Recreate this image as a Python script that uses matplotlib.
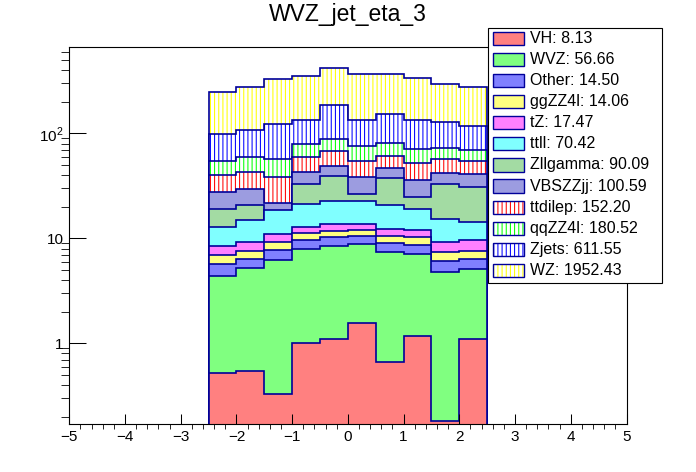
import numpy as np
import matplotlib
matplotlib.use("Agg")
import matplotlib.pyplot as plt
from matplotlib.patches import Rectangle
from matplotlib.ticker import FixedLocator, FixedFormatter, MultipleLocator, NullFormatter

plt.rcParams['font.family'] = ['Liberation Sans', 'DejaVu Sans']
plt.rcParams['mathtext.fontset'] = 'custom'
plt.rcParams['mathtext.rm'] = 'Liberation Sans'
plt.rcParams['hatch.linewidth'] = 0.75

title = "WVZ_jet_eta_3"
bin_edges = [-2.5, -2.0, -1.5, -1.0, -0.5, 0.0, 0.5, 1.0, 1.5, 2.0, 2.5]

# stack order, bottom to top (same order as the legend)
names = ["VH", "WVZ", "Other", "ggZZ4l", "tZ", "ttll", "Zllgamma",
         "VBSZZjj", "ttdilep", "qqZZ4l", "Zjets", "WZ"]
totals = [8.13, 56.66, 14.50, 14.06, 17.47, 70.42, 90.09,
          100.59, 152.20, 180.52, 611.55, 1952.43]

VH = [0.52, 0.54, 0.33, 1.00, 1.09, 1.55, 0.67, 1.17, 0.18, 1.09]
WVZ = [3.89, 4.64, 5.85, 6.86, 7.30, 7.22, 6.68, 5.87, 4.57, 3.98]
Other = [1.25, 1.17, 1.56, 1.72, 1.83, 1.68, 1.61, 1.54, 1.29, 1.24]
ggZZ4l = [1.23, 1.22, 1.48, 1.59, 1.44, 1.47, 1.49, 1.64, 1.32, 1.21]
tZ = [1.56, 1.65, 1.77, 1.57, 1.93, 1.67, 1.73, 1.70, 1.81, 2.05]
ttll = [4.28, 5.62, 7.49, 8.62, 8.92, 8.92, 8.44, 6.97, 6.01, 4.64]
Zllgamma = [6.16, 5.78, -9.3, 11.3, 16.4, 3.73, 16.65, 5.69, 17.52, 16.39]
VBSZZjj = [8.53, 8.67, 12.6, 10.4, 9.55, 11.87, 9.15, 11.1, 8.90, 10.09]
ttdilep = [12.4, 13.2, 16.9, 16.0, 18.9, 16.0, 14.0, 16.1, 14.9, 13.4]
qqZZ4l = [14.3, 16.6, 18.9, 19.5, 20.3, 21.1, 19.9, 18.6, 15.5, 14.8]
Zjets = [43.7, 49.9, 66.7, 54.4, 97.3, 57.8, 71.7, 62.6, 56.0, 50.1]
WZ = [153, 171, 202.5, 218, 231, 232, 213, 201, 171, 161]

values = [VH, WVZ, Other, ggZZ4l, tZ, ttll, Zllgamma,
          VBSZZjj, ttdilep, qqZZ4l, Zjets, WZ]

# (fill colour, hatch colour, hatch) ; checker fills are drawn as blended colours
styles = [
    ("#ff8080", None, None),
    ("#80ff80", None, None),
    ("#8080ff", None, None),
    ("#ffff80", None, None),
    ("#ff80ff", None, None),
    ("#80ffff", None, None),
    ("#a3dba3", None, None),
    ("#9c9ce0", None, None),
    ("white", "#ff0000", "||||"),
    ("white", "#00ff00", "||||"),
    ("white", "#0000ff", "||||"),
    ("white", "#ffff00", "||||"),
]
line_col = "#000099"

W, H = 696, 472
fig = plt.figure(figsize=(W / 100, H / 100), dpi=100)
ax = fig.add_axes([69.3 / W, 1 - 424.3 / H, (626.5 - 69.3) / W, (424.3 - 47.5) / H])
ax.set_yscale("log")

cum = np.cumsum(np.array(values, dtype=float), axis=0)
base = 1e-3
# THStack style: draw the cumulative histograms from the top one down
for k in range(len(names) - 1, -1, -1):
    face, hcol, hatch = styles[k]
    if hatch:
        ax.stairs(cum[k], bin_edges, baseline=base, fill=True, facecolor=face,
                  edgecolor=hcol, hatch=hatch, linewidth=0)
    else:
        ax.stairs(cum[k], bin_edges, baseline=base, fill=True, facecolor=face,
                  linewidth=0)
    ax.stairs(cum[k], bin_edges, baseline=base, color=line_col, linewidth=1.2)

ax.set_xlim(-5, 5)
ax.set_ylim(0.169, 659)

ax.xaxis.set_major_locator(MultipleLocator(1))
ax.xaxis.set_minor_locator(MultipleLocator(0.2))
ax.yaxis.set_major_locator(FixedLocator([1, 10, 100]))
ax.yaxis.set_major_formatter(FixedFormatter(["1", "10", "$10^{2}$"]))
minor_y = [m * 10.0 ** d for d in range(-1, 3) for m in range(2, 10)]
ax.yaxis.set_minor_locator(FixedLocator(minor_y))
ax.yaxis.set_minor_formatter(NullFormatter())

ax.tick_params(direction="in", top=False, right=False, width=0.75, labelsize=11)
ax.tick_params(axis="x", which="major", length=7.5, pad=4)
ax.tick_params(axis="x", which="minor", length=3.8)
ax.tick_params(axis="y", which="major", length=12.2, pad=4)
ax.tick_params(axis="y", which="minor", length=6.1)
for s in ax.spines.values():
    s.set_linewidth(0.8)

fig.text(0.5, 1 - 20.7 / H, title, ha="center", va="baseline", fontsize=16.5)

# legend box
def fx(x):
    return x / W

def fy(y):
    return 1 - y / H

fig.patches.append(Rectangle((fx(487.5), fy(283.3)), fx(661.5) - fx(487.5),
                             fy(28.3) - fy(283.3), transform=fig.transFigure,
                             facecolor="white", edgecolor="black", linewidth=0.8, zorder=5))
for i, name in enumerate(names):
    yc = 38.3 + 21.1 * i
    face, hcol, hatch = styles[i]
    x0, y0 = fx(493.3), fy(yc + 6.6)
    w, h = fx(524.3) - fx(493.3), fy(yc - 6.6) - fy(yc + 6.6)
    if hatch:
        fig.patches.append(Rectangle((x0, y0), w, h, transform=fig.transFigure,
                                     facecolor=face, edgecolor=hcol, hatch=hatch,
                                     linewidth=0, zorder=6))
    else:
        fig.patches.append(Rectangle((x0, y0), w, h, transform=fig.transFigure,
                                     facecolor=face, linewidth=0, zorder=6))
    fig.patches.append(Rectangle((x0, y0), w, h, transform=fig.transFigure,
                                 fill=False, edgecolor=line_col, linewidth=1.0, zorder=7))
    fig.text(fx(530), fy(yc), f"{name}: {totals[i]:.2f}", ha="left", va="center",
             fontsize=11.5, zorder=8)

fig.savefig("out.png", dpi=100)
